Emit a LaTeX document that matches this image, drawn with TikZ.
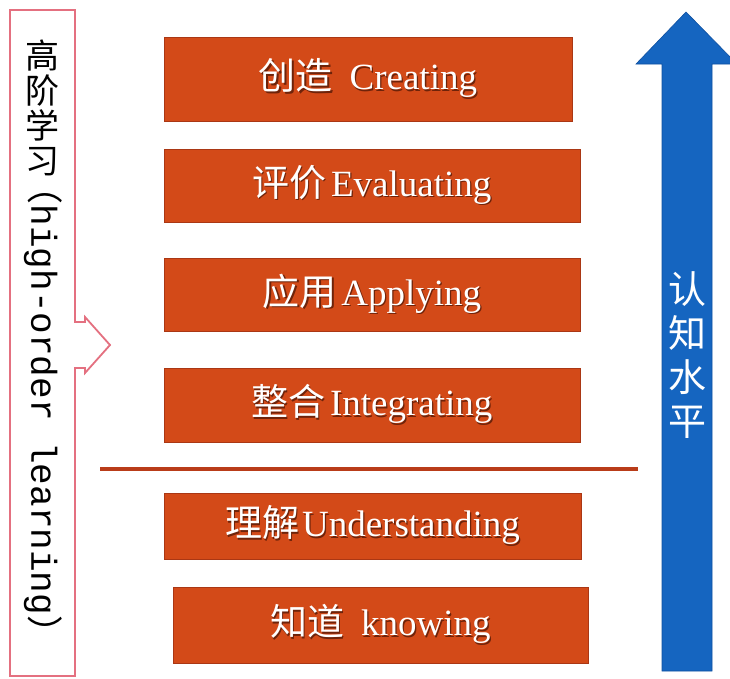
\documentclass[tikz,border=0pt]{standalone}
\usepackage{fontspec}
\setmainfont{Liberation Serif}
\newfontfamily\cjk{Noto Sans CJK SC}
\newfontfamily\monofnt{Liberation Mono}
\definecolor{boxorange}{RGB}{211,74,24}
\definecolor{boxedge}{RGB}{170,55,20}
\definecolor{sepline}{RGB}{185,60,25}
\definecolor{arrowblue}{RGB}{21,101,192}
\definecolor{arrowedge}{RGB}{15,80,160}
\definecolor{pinkedge}{RGB}{228,112,128}
\definecolor{txtshadow}{RGB}{110,35,10}
\newcommand{\shtext}[1]{\makebox[0pt][l]{\hspace{1.3pt}\raisebox{-1.3pt}{\color{txtshadow}#1}}#1}
\tikzset{
  levelbox/.style={fill=boxorange, draw=boxedge, line width=0.8pt, inner sep=0pt,
    text=white, font=\fontsize{37}{40}\selectfont},
  sepstyle/.style={draw=sepline, line width=4pt},
  bluearrow/.style={fill=arrowblue, draw=arrowedge, line width=0.6pt},
  pinkbox/.style={draw=pinkedge, line width=1.8pt, fill=white, line join=miter},
}
\begin{document}
\begin{tikzpicture}[x=1pt,y=-1pt]
\clip (0,0) rectangle (730,678);
\fill[white] (0,0) rectangle (730,678);

% left box with arrow
\draw[pinkbox] (10,10) -- (75,10) -- (75,322) -- (85,322) -- (85,317) -- (110,345)
  -- (85,373) -- (85,368) -- (75,368) -- (75,676) -- (10,676) -- cycle;
\node[font=\cjk\fontsize{34}{35}\selectfont, align=center, inner sep=0pt] (hl) at (42,108) {高\\阶\\学\\习};
\node[rotate=-90, inner sep=0pt, font=\fontsize{36}{38}\selectfont] (hol) at (43,410)
  {{\cjk （}{\monofnt high-order learning}{\cjk ）}};

% levels
\node[levelbox, minimum width=408pt, minimum height=84pt] (create) at (368,79)
  {\shtext{{\cjk 创造}\hspace{0.45em}Creating}};
\node[levelbox, minimum width=416pt, minimum height=73pt] (eval) at (372,185.5)
  {\shtext{{\cjk 评价}\hspace{0.12em}Evaluating}};
\node[levelbox, minimum width=416pt, minimum height=73pt] (apply) at (372,294.5)
  {\shtext{{\cjk 应用}\hspace{0.12em}Applying}};
\node[levelbox, minimum width=416pt, minimum height=74pt] (integ) at (372,405)
  {\shtext{{\cjk 整合}\hspace{0.12em}Integrating}};
\node[levelbox, minimum width=417pt, minimum height=66pt] (under) at (372.5,526)
  {\shtext{{\cjk 理解}\hspace{0.08em}Understanding}};
\node[levelbox, minimum width=415pt, minimum height=76pt] (know) at (380.5,625)
  {\shtext{{\cjk 知道}\hspace{0.45em}knowing}};

% separator
\coordinate (sl) at (100,469);
\coordinate (sr) at (638,469);
\draw[sepstyle] (sl) -- (sr);

% blue arrow
\draw[bluearrow] (662,671) -- (662,64) -- (636,64) -- (686,12) -- (737,64) -- (712,64) -- (712,671) -- cycle;
\node[text=white, font=\cjk\fontsize{38}{44}\selectfont, align=center, inner sep=0pt] (cog) at (687,355) {认\\知\\水\\平};
\end{tikzpicture}
\end{document}
